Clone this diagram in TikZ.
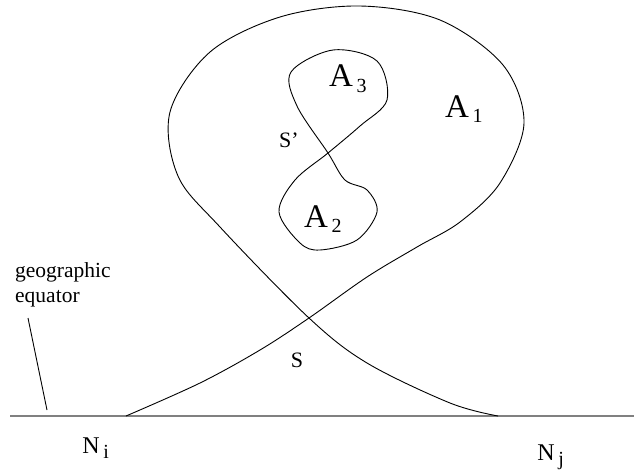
\documentclass[tikz,border=0pt]{standalone}
\usepackage{fontspec}
\setmainfont{Liberation Serif}
\begin{document}
\begin{tikzpicture}[x=1pt,y=-1pt,
  curve/.style={black,line width=0.9pt},
  equ/.style={gray,line width=1.4pt},
  big/.style={font=\fontsize{33}{36}\selectfont,inner sep=0pt},
  mid/.style={font=\fontsize{22}{26}\selectfont,inner sep=0pt},
  sub/.style={font=\fontsize{20}{24}\selectfont,inner sep=0pt}]
\useasboundingbox (0,0) rectangle (634,474);
% equator
\coordinate (eqL) at (10,416);
\coordinate (eqR) at (634,416);
\draw[equ] (eqL) -- (eqR);
% big loop S
\draw[curve] plot[smooth,tension=0.55] coordinates {
 (126,416) (200,383) (260,350) (309,318) (367,277) (417,247) (460,222) (500,183) (524,123)
 (503,65) (440,20) (360,6) (280,17) (210,52) (170,112) (178,176) (220,227)
 (309,318) (367,363) (450,403) (498,416)};
% figure eight S'
\draw[curve] plot[smooth cycle,tension=0.55] coordinates {
 (328,153) (297,106) (291,72) (333,50) (377,61) (387,100) (360,126)
 (328,153) (295,180) (279,212) (300,243) (320,250) (357,240) (377,212) (367,190)
 (345,180)};
% labels
\node[big,anchor=base] (A3) at (341,86) {A};
\node[sub,anchor=base west] (A3s) at ([yshift=-6pt]A3.base east) {\,3};
\node[big,anchor=base] (A1) at (457,117) {A};
\node[sub,anchor=base west] (A1s) at ([yshift=-5pt]A1.base east) {\,1};
\node[big,anchor=base] (A2) at (316,227) {A};
\node[sub,anchor=base west] (A2s) at ([yshift=-5pt]A2.base east) {\,2};
\node[mid,anchor=base west] (Sp) at (279,147) {S’};
\node[mid,anchor=base] (S) at (297,367) {S};
\node[font=\fontsize{24}{28}\selectfont,inner sep=0pt,anchor=base] (Ni) at (91,453) {N};
\node[sub,anchor=base west] (Nis) at ([yshift=-5pt]Ni.base east) {\,i};
\node[font=\fontsize{24}{28}\selectfont,inner sep=0pt,anchor=base] (Nj) at (546,460) {N};
\node[sub,anchor=base west] (Njs) at ([yshift=-5pt]Nj.base east) {\,j};
\node[font=\fontsize{21.5}{25}\selectfont,align=left,anchor=north west,inner sep=0pt] (geo) at (15,262) {geographic\\equator};
\coordinate (ptr) at (47,410);
\draw[curve] (28,318) -- (ptr);
\end{tikzpicture}
\end{document}
